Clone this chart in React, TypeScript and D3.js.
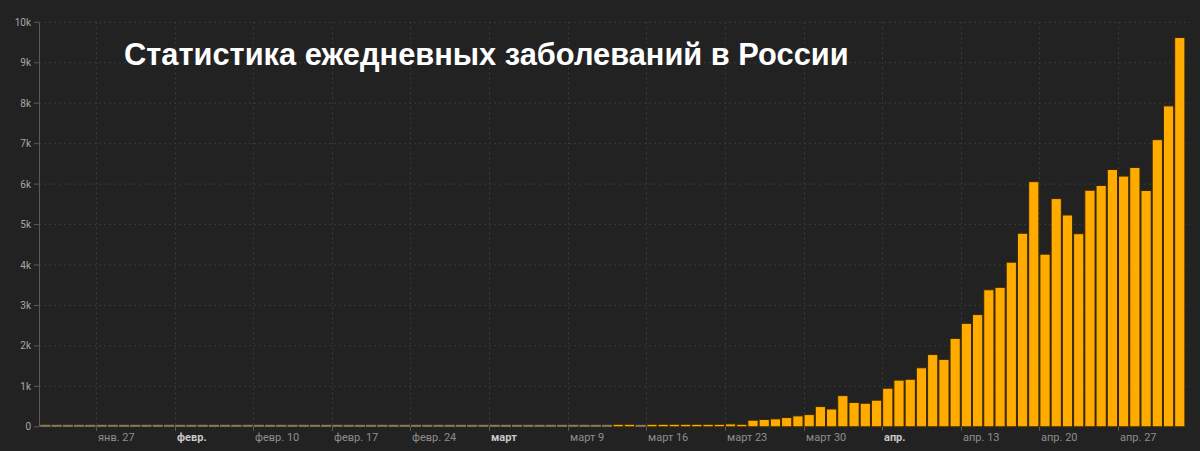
import React from "react";
import * as d3 from "d3";

// Daily new cases in Russia (Jan 22 – May 2, 2020)
const startDate = "2020-01-22";
const janValues = [0, 0, 0, 0, 0, 0, 0, 0, 0, 2]; // Jan 22..31
const febValues = [0, 0, 0, 0, 0, 0, 0, 0, 0, 0, 0, 0, 0, 0, 0, 0, 0, 0, 0, 0, 0, 0, 0, 0, 0, 0, 0, 0, 0]; // Feb 1..29
const marValues = [
  0, 1, 0, 0, 0, 6, 4, 3, 0, 3, 0, 8, 17, 14, 4, 27, 24, 33, 52, 54, 53, 61, 71, 57, 163, 182, 196, 228, 270, 302, 500,
]; // Mar 1..31
const aprValues = [
  440, 771, 601, 582, 658, 954, 1154, 1175, 1459, 1786, 1667, 2186, 2558, 2774, 3388, 3448, 4070, 4785, 6060, 4268,
  5642, 5236, 4774, 5849, 5966, 6361, 6198, 6411, 5841, 7099,
]; // Apr 1..30
const mayValues = [7933, 9623]; // May 1..2

const tickDates = [
  "2020-01-27", "2020-02-03", "2020-02-10", "2020-02-17", "2020-02-24", "2020-03-02", "2020-03-09",
  "2020-03-16", "2020-03-23", "2020-03-30", "2020-04-06", "2020-04-13", "2020-04-20", "2020-04-27",
];
const tickLabels = [
  "янв. 27", "февр.", "февр. 10", "февр. 17", "февр. 24", "март", "март 9",
  "март 16", "март 23", "март 30", "апр.", "апр. 13", "апр. 20", "апр. 27",
];
const boldTicks = ["февр.", "март", "апр."];
const yTicks = [0, 1000, 2000, 3000, 4000, 5000, 6000, 7000, 8000, 9000, 10000];
const yTickLabels = ["0", "1k", "2k", "3k", "4k", "5k", "6k", "7k", "8k", "9k", "10k"];
const title = "Статистика ежедневных заболеваний в России";

const W = 1200;
const H = 451;

export default function App() {
  const parse = d3.utcParse("%Y-%m-%d");
  const start = parse(startDate) as Date;
  const values = [...janValues, ...febValues, ...marValues, ...aprValues, ...mayValues];
  const data = values.map((v, i) => ({ date: d3.utcDay.offset(start, i), value: v }));
  const end = d3.utcDay.offset(start, values.length);

  const x = d3.scaleUtc().domain([start, end]).range([39.8, 1185.4]);
  const y = d3.scaleLinear().domain([0, 10000]).range([426.8, 22.3]);
  const x0 = 39;
  const xMaxGrid = 1190;
  const font = "Roboto, 'Noto Sans', sans-serif";

  return (
    <svg
      width={W}
      height={H}
      style={{ position: "absolute", left: 0, top: 0, display: "block" }}
      xmlns="http://www.w3.org/2000/svg"
    >
      <rect x={0} y={0} width={W} height={H} fill="#222222" />
      {/* horizontal grid */}
      {yTicks.map((t) => (
        <line
          key={"hg" + t}
          x1={x0}
          x2={xMaxGrid}
          y1={y(t)}
          y2={y(t)}
          stroke="#3a3a3a"
          strokeWidth={1}
          strokeDasharray="2,3"
        />
      ))}
      {/* vertical grid */}
      {tickDates.map((t) => {
        const xv = Math.round(x(parse(t) as Date)) + 0.5;
        return (
          <line
            key={"vg" + t}
            x1={xv}
            x2={xv}
            y1={y(10000)}
            y2={y(0)}
            stroke="#3a3a3a"
            strokeWidth={1}
            strokeDasharray="2,3"
          />
        );
      })}
      {/* y axis */}
      <line x1={x0 + 0.5} x2={x0 + 0.5} y1={y(10000)} y2={y(0)} stroke="#5a5a5a" strokeWidth={1} />
      {yTicks.map((t, i) => (
        <g key={"yt" + t}>
          <line x1={x0 - 5} x2={x0} y1={y(t)} y2={y(t)} stroke="#5a5a5a" strokeWidth={1} />
          <text
            x={31}
            y={y(t)}
            dy="0.35em"
            textAnchor="end"
            fontFamily={font}
            fontSize={10}
            fill="#a8a8a8"
          >
            {yTickLabels[i]}
          </text>
        </g>
      ))}
      {/* bars */}
      {data.map((d) => {
        const bx = x(d.date);
        const bw = x(d3.utcDay.offset(d.date, 1)) - bx;
        const small = d.value < 10;
        const h = small ? 2 : Math.max(y(0) - y(d.value), 2.5);
        return (
          <rect
            key={"b" + d.date.toISOString()}
            x={bx + 0.5}
            y={y(0) - h}
            width={bw - 1}
            height={h}
            fill={small ? "#8d7b55" : "#ffab00"}
            stroke={small ? "none" : "#3a2800"}
            strokeWidth={1}
          />
        );
      })}
      {/* x ticks */}
      {tickDates.map((t, i) => {
        const xv = Math.round(x(parse(t) as Date)) + 0.5;
        const bold = boldTicks.includes(tickLabels[i]);
        return (
          <g key={"xt" + t}>
            <line x1={xv} x2={xv} y1={y(0)} y2={y(0) + 4} stroke="#5a5a5a" strokeWidth={1} />
            <text
              x={xv + 1.5}
              y={441}
              fontFamily={font}
              fontSize={11}
              fontWeight={bold ? 700 : 400}
              fill={bold ? "#c8c8c8" : "#8e8e8e"}
            >
              {tickLabels[i]}
            </text>
          </g>
        );
      })}
      {/* title */}
      <text
        x={124}
        y={65}
        fontFamily="'Liberation Sans', Arial, sans-serif"
        fontWeight={700}
        fontSize={30.8}
        fill="#ffffff"
      >
        {title}
      </text>
    </svg>
  );
}
